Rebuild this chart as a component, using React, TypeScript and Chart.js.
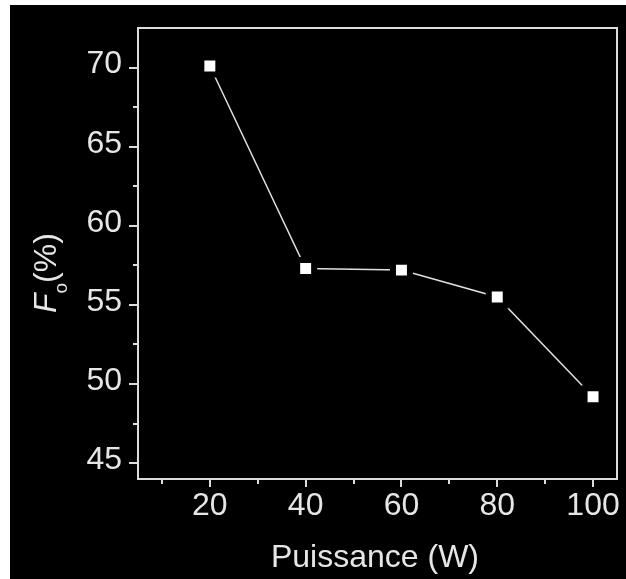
import React, { useEffect, useRef } from 'react';
import { Chart, registerables } from 'chart.js';

Chart.register(...registerables);

// ---- data ----
const powerW = [20, 40, 60, 80, 100];
const foPercent = [70.1, 57.3, 57.2, 55.5, 49.2];
const xTickValues = [20, 40, 60, 80, 100];
const xMinorTickValues = [10, 30, 50, 70, 90];
const yTickValues = [45, 50, 55, 60, 65, 70];
const yMinorTickValues = [47.5, 52.5, 57.5, 62.5, 67.5];
const xTitle = 'Puissance (W)';
const yTitleMain = 'F';
const yTitleSub = 'o';
const yTitleRest = '(%)';

const FONT = '"Liberation Sans", Arial, sans-serif';
const TXT = '#e6e6e6';
const AX = '#dcdcdc';

const zeroPad = (s: any) => {
  s.paddingLeft = 0;
  s.paddingRight = 0;
  s.paddingTop = 0;
  s.paddingBottom = 0;
};

const framePlugin = {
  id: 'originFrame',
  afterDraw(chart: any) {
    const { ctx, chartArea: a, scales } = chart;
    const xs = scales.x;
    const ys = scales.y;
    ctx.save();
    ctx.strokeStyle = AX;
    ctx.lineWidth = 2;
    ctx.strokeRect(a.left, a.top, a.right - a.left, a.bottom - a.top);
    ctx.beginPath();
    xTickValues.forEach((v) => {
      const p = Math.round(xs.getPixelForValue(v));
      ctx.moveTo(p, a.bottom);
      ctx.lineTo(p, a.bottom + 8);
    });
    xMinorTickValues.forEach((v) => {
      const p = Math.round(xs.getPixelForValue(v));
      ctx.moveTo(p, a.bottom);
      ctx.lineTo(p, a.bottom + 5);
    });
    yTickValues.forEach((v) => {
      const p = Math.round(ys.getPixelForValue(v));
      ctx.moveTo(a.left, p);
      ctx.lineTo(a.left - 9, p);
    });
    yMinorTickValues.forEach((v) => {
      const p = Math.round(ys.getPixelForValue(v));
      ctx.moveTo(a.left, p);
      ctx.lineTo(a.left - 5, p);
    });
    ctx.stroke();

    // x title
    ctx.fillStyle = TXT;
    ctx.font = `32px ${FONT}`;
    ctx.textAlign = 'center';
    ctx.textBaseline = 'alphabetic';
    ctx.fillText(xTitle, 365, 562);

    // y title (rotated, with subscript)
    ctx.translate(46, 308);
    ctx.rotate(-Math.PI / 2);
    ctx.textAlign = 'left';
    ctx.font = `italic 32px ${FONT}`;
    ctx.fillText(yTitleMain, 0, 0);
    let w = ctx.measureText(yTitleMain).width;
    ctx.font = `19px ${FONT}`;
    ctx.fillText(yTitleSub, w, 11);
    w += ctx.measureText(yTitleSub).width;
    ctx.font = `32px ${FONT}`;
    ctx.fillText(yTitleRest, w, 0);
    ctx.restore();
  },
};

export default function App() {
  const ref = useRef<HTMLCanvasElement>(null);
  useEffect(() => {
    if (!ref.current) return;
    const chart = new Chart(ref.current, {
      type: 'line',
      data: {
        datasets: [
          {
            data: powerW.map((x, i) => ({ x, y: foPercent[i] })),
            borderColor: '#e0e0e0',
            borderWidth: 1.5,
            pointStyle: 'rect',
            pointRadius: 12,
            pointBackgroundColor: '#ffffff',
            pointBorderColor: '#000000',
            pointBorderWidth: 6,
            tension: 0,
          },
        ],
      },
      options: {
        animation: false,
        responsive: false,
        events: [],
        layout: { autoPadding: false, padding: { top: 23, right: 9, left: 0, bottom: 0 } },
        plugins: { legend: { display: false }, tooltip: { enabled: false } },
        scales: {
          x: {
            type: 'linear',
            min: 5,
            max: 105,
            grid: { display: false, drawTicks: false },
            border: { display: false },
            afterBuildTicks: (s: any) => {
              s.ticks = xTickValues.map((v) => ({ value: v }));
            },
            afterFit: (s: any) => {
              s.height = 100;
              zeroPad(s);
            },
            ticks: {
              color: TXT,
              font: { family: FONT, size: 32 },
              padding: 8,
              maxRotation: 0,
              autoSkip: false,
            },
          },
          y: {
            type: 'linear',
            min: 44,
            max: 72.5,
            grid: { display: false, drawTicks: false },
            border: { display: false },
            afterBuildTicks: (s: any) => {
              s.ticks = yTickValues.map((v) => ({ value: v }));
            },
            afterFit: (s: any) => {
              s.width = 128;
              zeroPad(s);
            },
            ticks: {
              color: TXT,
              font: { family: FONT, size: 32 },
              padding: 16,
              labelOffset: -3,
              autoSkip: false,
            },
          },
        },
      },
      plugins: [framePlugin],
    });
    return () => chart.destroy();
  }, []);

  return (
    <div style={{ position: 'fixed', left: 0, top: 0, width: 626, height: 579, background: '#ffffff' }}>
      <div style={{ position: 'absolute', left: 10, top: 5, width: 616, height: 574, background: '#000000' }}>
        <canvas ref={ref} width={616} height={574} style={{ display: 'block' }} />
      </div>
    </div>
  );
}
